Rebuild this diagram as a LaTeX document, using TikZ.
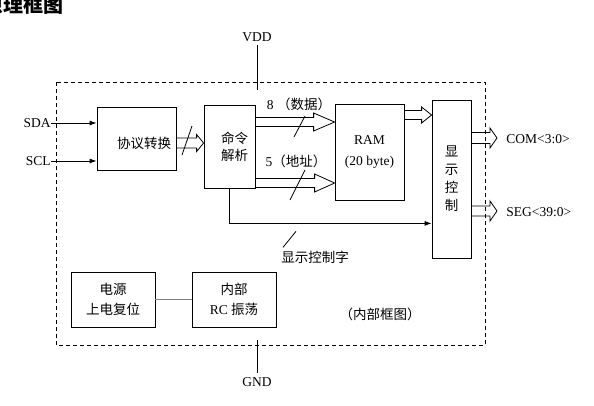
\documentclass[tikz,border=0pt]{standalone}
\usepackage{fontspec}
\setmainfont{Liberation Serif}
\newfontfamily\cjk{Noto Sans CJK SC}
\usetikzlibrary{calc, arrows.meta}

\newcommand{\sz}{\fontsize{13.5}{20}\selectfont}

\tikzset{
  box/.style={draw, inner sep=0pt, align=center},
  txt/.style={inner sep=0pt},
  cn/.style={font=\cjk\sz},
  bus/.style n args={3}{to path={let \p1=(\tikztostart), \p2=(\tikztotarget) in
    (\x1,\y1+#1pt) -- (\x2-#3pt,\y1+#1pt) -- (\x2-#3pt,\y1+#2pt) -- (\x2,\y1)
    -- (\x2-#3pt,\y1-#2pt) -- (\x2-#3pt,\y1-#1pt) -- (\x1,\y1-#1pt)}},
  >={Latex[length=7pt, width=5pt]}
}

\begin{document}
\begin{tikzpicture}[x=1pt, y=-1pt, line width=0.8pt, font=\sz]
  \useasboundingbox (0,0) rectangle (594,405);

  \node[txt, anchor=east, font=\cjk\bfseries\fontsize{20}{24}\selectfont] (title) at (64,5) {原理框图};

  % chip outline
  \draw[dash pattern=on 4pt off 3pt] (56,82) rectangle (485,345);

  \node[box, minimum width=79pt, minimum height=63pt, text width=69pt, align=right, text height=19pt, text depth=0pt, cn] (conv) at (136.5,138.5) {协议转换};
  \node[box, cn, minimum width=51pt, minimum height=83pt, text width=37pt, align=right] (cmd) at (229.5,146.5) {命令\\[-3pt]解析};
  \node[box, minimum width=69pt, minimum height=96pt] (ram) at (369.5,152) {RAM\\[1pt](20 byte)};
  \node[box, cn, minimum width=39pt, minimum height=158pt] (disp) at (451.5,179) {显\\[-2pt]示\\[-2pt]控\\[-2pt]制};
  \node[box, cn, minimum width=84pt, minimum height=55pt] (pwr) at (113,299.5) {电源\\上电复位};
  \node[box, minimum width=84pt, minimum height=55pt] (osc) at (234,299.5) {{\cjk 内部}\\RC {\cjk 振荡}};

  \node[txt] (vdd) at (257,37) {VDD};
  \node[txt] (gnd) at (257,382) {GND};
  \node[txt, anchor=east] (sda) at (51,123) {SDA};
  \node[txt, anchor=east] (scl) at (51,161) {SCL};
  \node[txt, anchor=west] (com) at (506,139) {COM<3:0>};
  \node[txt, anchor=west] (seg) at (506,212) {SEG<39:0>};
  \node[txt] (datalbl) at (299,104) {8 {\cjk （数据）}};
  \node[txt] (addrlbl) at (296,161) {5{\cjk （地址）}};
  \node[txt, cn, anchor=west] (ctlword) at (281,257) {显示控制字};
  \node[txt, cn] (inner) at (380,314) {（内部框图）};

  \coordinate (vddpin) at (257,90);
  \coordinate (gndpin) at (257,340);
  \coordinate (comend) at (497,138);
  \coordinate (segend) at (497,211);

  \draw[shorten <=3pt] (vdd.south) -- (vddpin);
  \draw[shorten >=4pt] (gndpin) -- (gnd.north);
  \draw[->] (sda.east) -- (conv.west |- sda.east);
  \draw[->] (scl.east) -- (conv.west |- scl.east);
  \draw[->] (cmd.south) |- ([yshift=35pt]disp.south west);
  \draw[gray, line width=1.2pt] (pwr) -- (osc);

  % buses
  \draw[bus={5}{8.5}{7}] (conv.east |- 0,143) to (cmd.west);
  \draw[bus={4.5}{9}{21}] (cmd.east |- 0,122) to (ram.west);
  \draw[bus={4.5}{9}{20}] (cmd.east |- 0,183) to (ram.west);
  \draw[bus={4.5}{8}{10}] (ram.east |- 0,115) to (disp.west);
  \draw[bus={5.5}{10}{7}] (disp.east |- comend) to (comend);
  \draw[bus={5}{10}{7}] (disp.east |- segend) to (segend);

  % bus width marks
  \draw (182,155) -- (192,126);
  \draw (294,137) -- (305,116);
  \draw (290,200) -- (305,170);
  \draw (ctlword.north west) ++(2,-3) -- ++(13,-16);
\end{tikzpicture}
\end{document}
